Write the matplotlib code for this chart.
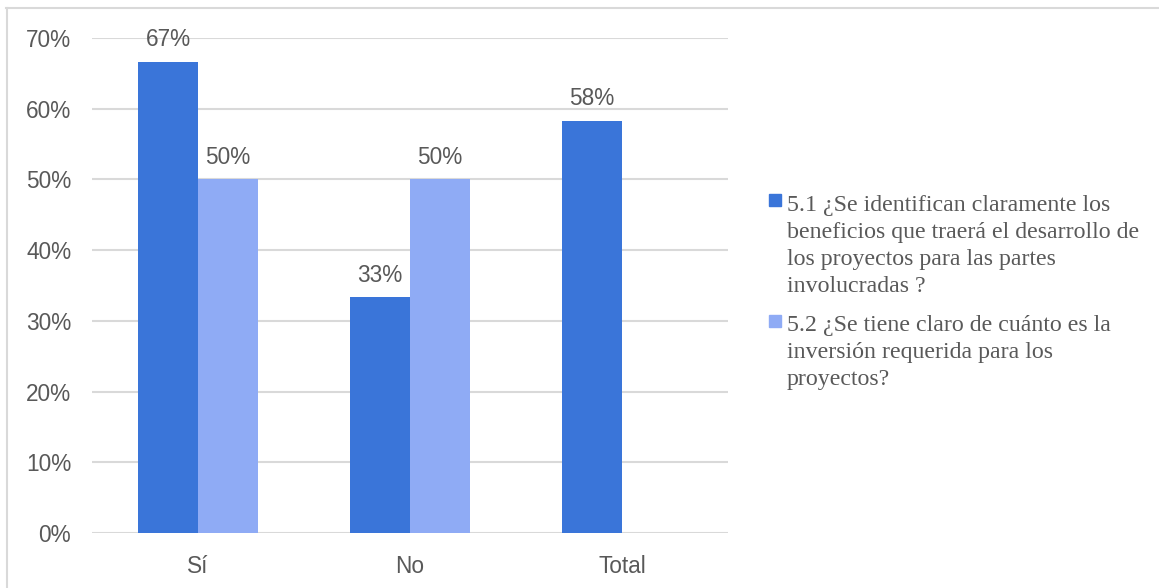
import matplotlib
matplotlib.use("Agg")
import matplotlib.pyplot as plt
from matplotlib.patches import Rectangle
from matplotlib.lines import Line2D
import numpy as np

categories = ["Sí", "No", "Total"]
series_names = [
    "5.1 ¿Se identifican claramente los\nbeneficios que traerá el desarrollo de\nlos proyectos para las partes\ninvolucradas ?",
    "5.2 ¿Se tiene claro de cuánto es la\ninversión requerida para los\nproyectos?",
]
q51_values = [0.6667, 0.3333, 0.5833]
q52_values = [0.50, 0.50, None]
y_ticks = [0.0, 0.1, 0.2, 0.3, 0.4, 0.5, 0.6, 0.7]

colors = ["#3A75D9", "#8FABF5"]
text_gray = "#595959"
grid_gray = "#D9D9D9"
fs = 16.3

W, H = 1159, 588
fig = plt.figure(figsize=(W / 100, H / 100), dpi=100)
ax = fig.add_axes([92 / W, 1 - 533 / H, (728 - 92) / W, (533 - 38) / H])

x = np.arange(len(categories))
width = 0.283

for i, (vals, col) in enumerate(zip([q51_values, q52_values], colors)):
    offset = (i - 0.5) * width
    for xi, v in zip(x, vals):
        if v is None:
            continue
        pos = xi + offset
        ax.bar(pos, v, width=width, color=col, zorder=3)
        ax.annotate(f"{v:.0%}", (pos, v), xytext=(0, 16), textcoords="offset points",
                    ha="center", va="center", fontsize=fs, color=text_gray,
                    family="Liberation Sans")

ax.set_xlim(-0.5, 2.5)
ax.set_ylim(0, 0.7)
ax.set_yticks(y_ticks)
ax.set_yticklabels([f"{t:.0%}" for t in y_ticks])
ax.set_xticks(x)
ax.set_xticklabels(categories)
for lbl in ax.get_xticklabels() + ax.get_yticklabels():
    lbl.set_family("Liberation Sans")
    lbl.set_fontsize(fs)
    lbl.set_color(text_gray)
ax.tick_params(axis="y", length=0, pad=15)
ax.tick_params(axis="x", length=0, pad=16)
ax.grid(axis="y", color=grid_gray, linewidth=1.5, zorder=0)
for s in ax.spines.values():
    s.set_visible(False)

# legend drawn by hand so each square sits on the first line of its label
square_tops = [194, 315]
text_tops = [194.5, 314.5]
for name, col, sq, tt in zip(series_names, colors, square_tops, text_tops):
    fig.patches.append(Rectangle((769 / W, 1 - (sq + 12) / H), 12 / W, 12 / H,
                                 transform=fig.transFigure, color=col))
    fig.text(787 / W, 1 - tt / H, name, ha="left", va="top",
             fontsize=17.2, color=text_gray, family="Liberation Serif",
             linespacing=1.39)

# chart frame
fig.add_artist(Line2D([6 / W, 1.0], [1 - 7.5 / H, 1 - 7.5 / H], color=grid_gray, lw=1.5,
                      transform=fig.transFigure))
fig.add_artist(Line2D([6.5 / W, 6.5 / W], [0, 1 - 7.5 / H], color=grid_gray, lw=1.5,
                      transform=fig.transFigure))

fig.savefig("out.png", dpi=100, facecolor="white")
